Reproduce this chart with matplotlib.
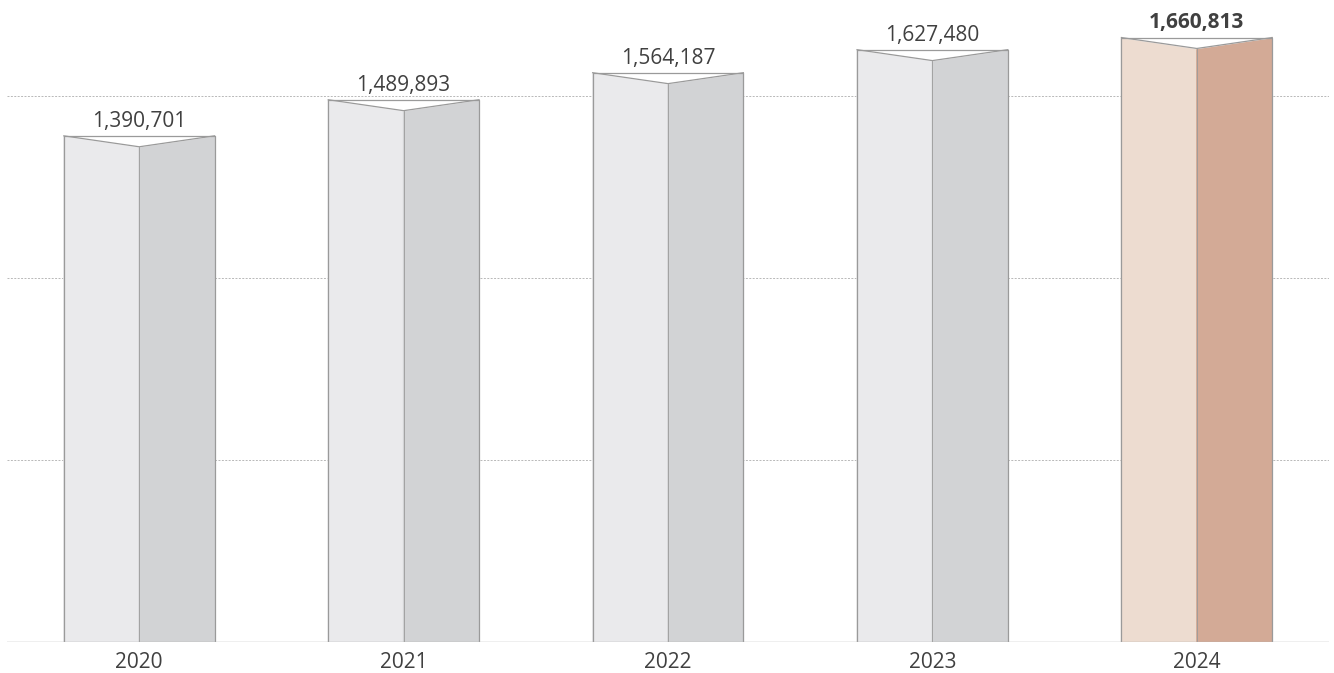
import matplotlib
matplotlib.use('Agg')
import matplotlib.pyplot as plt

years = ['2020', '2021', '2022', '2023', '2024']
totals = [1390701, 1489893, 1564187, 1627480, 1660813]
grid_levels = [500000, 1000000, 1500000]

plt.rcParams['font.family'] = ['Open Sans', 'DejaVu Sans']

fig = plt.figure(figsize=(13.34, 6.73), dpi=100)
ax = fig.add_axes([7 / 1334, 31 / 673, 1322 / 1334, 642 / 673])

ax.set_xlim(-0.5, len(years) - 0.5)
ax.set_ylim(0, 1764000)

# dashed guides behind the bars
for g in grid_levels:
    ax.axhline(g, color='#b8b8b8', linewidth=0.7, linestyle=(0, (2, 1.5)), zorder=0)
ax.axhline(0, color='#b0b0b0', linewidth=1.0, zorder=3)

w = 0.57
notch = 30000
edge = '#9a9a9a'
for i, v in enumerate(totals):
    last = i == len(totals) - 1
    left_c = '#eddcd0' if last else '#eaeaec'
    right_c = '#d3aa96' if last else '#d2d3d5'
    xl, xr = i - w / 2, i + w / 2
    ax.fill([xl, i, i, xl], [0, 0, v - notch, v], color=left_c, zorder=1)
    ax.fill([i, xr, xr, i], [0, 0, v, v - notch], color=right_c, zorder=1)
    ax.fill([xl, xr, i], [v, v, v - notch], color='white', zorder=1)
    # outline of the folded bar
    ax.plot([xl, xl, xr, xr], [0, v, v, 0], color=edge, linewidth=0.9, zorder=2)
    ax.plot([xl, i, xr], [v, v - notch, v], color=edge, linewidth=0.9, zorder=2)
    ax.plot([i, i], [0, v - notch], color=edge, linewidth=0.6, zorder=2)
    ax.annotate(f'{v:,}', (i, v), xytext=(0, 3), textcoords='offset points',
                ha='center', va='bottom', fontsize=15, color='#404040',
                fontweight='bold' if last else 'normal')

ax.set_xticks(range(len(years)))
ax.set_xticklabels(years, fontsize=15, color='#404040')
ax.tick_params(axis='x', length=0, pad=7)
ax.set_yticks([])
for s in ax.spines.values():
    s.set_visible(False)

fig.savefig('out.png', dpi=100)
